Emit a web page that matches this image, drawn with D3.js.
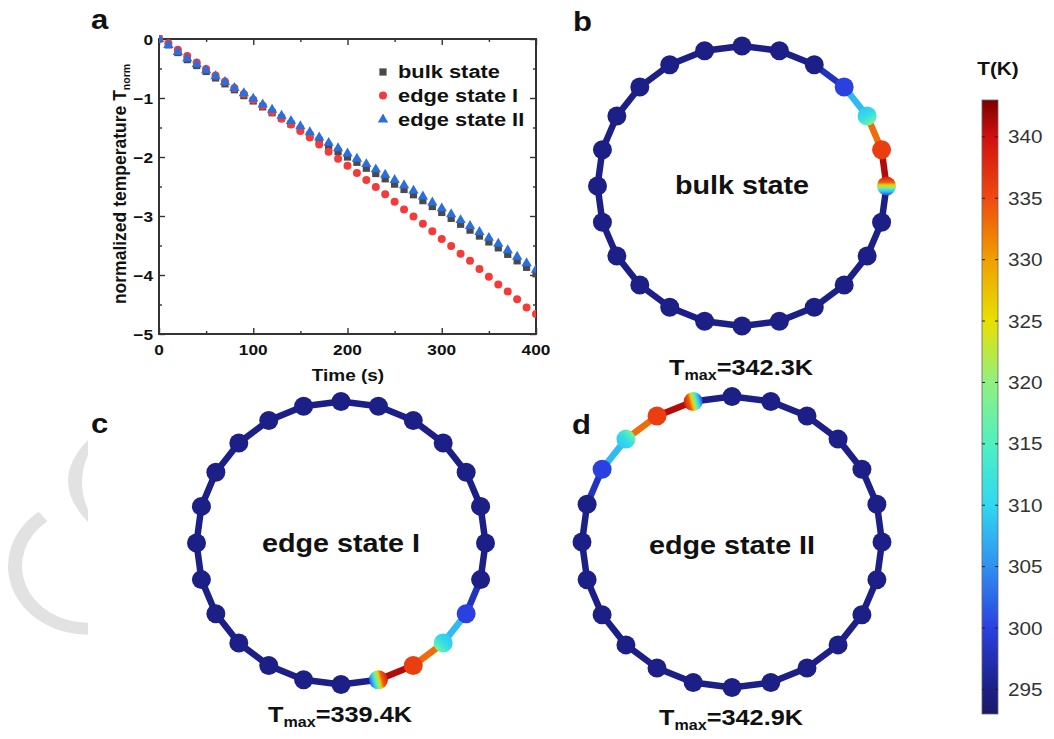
<!DOCTYPE html>
<html>
<head>
<meta charset="utf-8">
<script src="https://cdn.jsdelivr.net/npm/d3@7"></script>
<style>
  body { margin: 0; background: #fff; }
  svg { display: block; }
  text { font-family: "Liberation Sans", Arial, sans-serif; fill: #111; }
</style>
</head>
<body>
<svg id="fig" width="1054" height="739"></svg>
<script>
// ---- data ----
var timeS = [0,10,20,30,40,50,60,70,80,90,100,110,120,130,140,150,160,170,180,190,200,
             210,220,230,240,250,260,270,280,290,300,310,320,330,340,350,360,370,380,390,400];
var bulkT = [0,-0.10,-0.23,-0.35,-0.45,-0.55,-0.66,-0.76,-0.86,-0.96,-1.05,-1.15,-1.25,-1.34,-1.44,-1.53,-1.63,-1.72,-1.82,-1.91,-2.00,
             -2.09,-2.19,-2.28,-2.37,-2.46,-2.55,-2.64,-2.74,-2.84,-2.94,-3.04,-3.14,-3.24,-3.34,-3.44,-3.54,-3.65,-3.76,-3.87,-3.98];
var edge1T = [0,-0.07,-0.18,-0.29,-0.40,-0.51,-0.62,-0.72,-0.83,-0.93,-1.03,-1.13,-1.24,-1.35,-1.45,-1.56,-1.67,-1.79,-1.91,-2.03,-2.15,
              -2.27,-2.39,-2.51,-2.63,-2.76,-2.89,-3.01,-3.13,-3.26,-3.39,-3.51,-3.64,-3.76,-3.90,-4.03,-4.16,-4.28,-4.41,-4.55,-4.66];
var edge2T = [0,-0.10,-0.22,-0.33,-0.43,-0.53,-0.63,-0.73,-0.83,-0.92,-1.01,-1.11,-1.20,-1.30,-1.39,-1.48,-1.58,-1.67,-1.76,-1.85,-1.94,
              -2.03,-2.12,-2.21,-2.30,-2.39,-2.48,-2.57,-2.67,-2.77,-2.87,-2.97,-3.07,-3.17,-3.27,-3.37,-3.47,-3.58,-3.69,-3.80,-3.91];
var seriesNames = ["bulk state", "edge state I", "edge state II"];

var xMajor = [0,100,200,300,400];
var xMinor = [50,150,250,350];
var yMajor = [0,-1,-2,-3,-4,-5];
var yMinor = [-0.5,-1.5,-2.5,-3.5,-4.5];

var cbarTicks = [295,300,305,310,315,320,325,330,335,340];
var cmapT = [293,295,300,305,310,315,320,325,330,335,340,343];
var cmapColors = ["#1a1a66","#1c1f85","#2a40e0","#3090f0","#30d8f0","#50f0c0",
                  "#90f080","#e8e000","#f0a000","#f04a10","#d01010","#7a0000"];

var ringPanel = ["b","c","d"];
var ringLabels = ["bulk state", "edge state I", "edge state II"];
var ringTmax = ["342.3", "339.4", "342.9"];
var ringHotStart = [3, 8, 20];        // first warm node, in 15 degree steps from the top
var nodeCount = 24;
var baseT = 295;
var hotNodeT = [300, 311, 336, 342];   // blue, cyan, red, mixed node
var hotSegT = [298, 308, 333, 341];    // segment leading into each warm node

var SX = 1.15;   // the figure's text is a little wide
var svg = d3.select("#fig");
var defs = svg.append("defs");

var color = d3.scaleLinear().domain(cmapT).range(cmapColors).clamp(true);

function txt(parent, x, y, anchor, size, weight) {
  return parent.append("text")
    .attr("transform", "translate(" + x + "," + y + ") scale(" + SX + ",1)")
    .attr("text-anchor", anchor)
    .attr("font-size", size)
    .attr("font-weight", weight);
}

// ---- watermark ----
var wm = svg.append("g").attr("fill", "#e2e2e2");
wm.append("path")
  .attr("transform", "translate(88,566) scale(1,0.86)")
  .attr("d", d3.arc()({innerRadius: 66, outerRadius: 80, startAngle: Math.PI, endAngle: 322 * Math.PI / 180}));
wm.append("path").attr("d", "M88,440 Q48,481 88,522 L88,510 Q76,482 88,455 Z");

// ---- panel a ----
var x = d3.scaleLinear().domain([0, 400]).range([159, 536]);
var y = d3.scaleLinear().domain([-5, 0]).range([334, 39]);
var gA = svg.append("g");

defs.append("clipPath").attr("id", "plotclip")
  .append("rect").attr("x", 159).attr("y", 35).attr("width", 377).attr("height", 299);

function tickAxis(axis, values, len, tr) {
  gA.append("g").attr("transform", tr)
    .call(axis.tickValues(values).tickSize(len).tickSizeOuter(0).tickFormat(""))
    .call(function(g) { g.select(".domain").remove(); })
    .call(function(g) { g.selectAll("line").attr("stroke", "#333").attr("stroke-width", 1.4); });
}
tickAxis(d3.axisBottom(x), xMajor, -6, "translate(0,334)");
tickAxis(d3.axisBottom(x), xMinor, -3, "translate(0,334)");
tickAxis(d3.axisTop(x), xMajor, -6, "translate(0,39)");
tickAxis(d3.axisTop(x), xMinor, -3, "translate(0,39)");
tickAxis(d3.axisLeft(y), yMajor, -6, "translate(159,0)");
tickAxis(d3.axisLeft(y), yMinor, -3, "translate(159,0)");
tickAxis(d3.axisRight(y), yMajor, -6, "translate(536,0)");
tickAxis(d3.axisRight(y), yMinor, -3, "translate(536,0)");

gA.append("rect").attr("x", 159).attr("y", 39).attr("width", 377).attr("height", 295)
  .attr("fill", "none").attr("stroke", "#333").attr("stroke-width", 2);

xMajor.forEach(function(v) { txt(gA, x(v), 355, "middle", 15, "bold").text(v); });
yMajor.forEach(function(v) { txt(gA, 153, y(v) + 5.5, "end", 15, "bold").text(d3.format("d")(v)); });

txt(gA, 348, 381, "middle", 16.5, "bold").text("Time (s)");
var yl = gA.append("text").attr("transform", "translate(126,184) rotate(-90)")
  .attr("text-anchor", "middle").attr("font-size", 17.5).attr("font-weight", "bold");
yl.append("tspan").text("normalized temperature T");
yl.append("tspan").attr("font-size", 10.5).attr("dy", 4).text("norm");

var series = [
  {vals: bulkT, sym: d3.symbolSquare, size: 52, fill: "#4a4a4a"},
  {vals: edge1T, sym: d3.symbolCircle, size: 50, fill: "#f53a3a"},
  {vals: edge2T, sym: d3.symbolTriangle, size: 46, fill: "#2a6fdc"}
];
var pts = gA.append("g").attr("clip-path", "url(#plotclip)");
series.forEach(function(s) {
  pts.append("g").selectAll("path").data(timeS).join("path")
    .attr("transform", function(t, i) { return "translate(" + x(t) + "," + y(s.vals[i]) + ")"; })
    .attr("d", d3.symbol().type(s.sym).size(s.size)())
    .attr("fill", s.fill);
});

// legend
var legY = [72, 95.5, 119.5];
series.forEach(function(s, i) {
  gA.append("path").attr("transform", "translate(383," + legY[i] + ")")
    .attr("d", d3.symbol().type(s.sym).size(s.size)()).attr("fill", s.fill);
  txt(gA, 398, legY[i] + 6, "start", 19, "bold").text(seriesNames[i]);
});

// ---- ring panels ----
var ringGeo = [
  {cx: 742, cy: 186, rx: 144.5, ry: 140, lab: 194, tm: 375, tx: 741, px: 573, py: 31},
  {cx: 341, cy: 543, rx: 144.5, ry: 141.5, lab: 552, tm: 722, tx: 340, px: 91, py: 433},
  {cx: 732, cy: 542, rx: 150, ry: 145.5, lab: 554, tm: 725, tx: 731, px: 572, py: 434}
];
var ang = d3.scaleLinear().domain([0, nodeCount]).range([0, 2 * Math.PI]);

function nodeTemps(start) {
  var nt = d3.range(nodeCount).map(function() { return baseT; });
  var st = d3.range(nodeCount).map(function() { return baseT; });
  hotNodeT.forEach(function(t, k) { nt[(start + k) % nodeCount] = t; });
  hotSegT.forEach(function(t, k) { st[(start + k) % nodeCount] = t; });
  return {nt: nt, st: st};
}

ringGeo.forEach(function(g, r) {
  var gR = svg.append("g");
  var pos = function(i) {
    var a = ang(i);
    return [g.cx + g.rx * Math.sin(a), g.cy - g.ry * Math.cos(a)];
  };
  var tan = function(i) { var a = ang(i); return [Math.cos(a), Math.sin(a)]; };
  var temps = nodeTemps(ringHotStart[r]);

  // segment i joins node i-1 to node i
  gR.selectAll("line.seg").data(d3.range(nodeCount)).join("line")
    .attr("x1", function(i) { return pos(i - 1)[0]; })
    .attr("y1", function(i) { return pos(i - 1)[1]; })
    .attr("x2", function(i) { return pos(i)[0]; })
    .attr("y2", function(i) { return pos(i)[1]; })
    .attr("stroke", function(i) { return color(temps.st[i]); })
    .attr("stroke-width", 6.5).attr("stroke-linecap", "round");

  // gradients for the cyan node and the mixed node
  var cyanIdx = (ringHotStart[r] + 1) % nodeCount;
  var mixIdx = (ringHotStart[r] + 3) % nodeCount;
  function grad(id, i, stops) {
    var p = pos(i), t = tan(i), R = 9.5;
    var lg = defs.append("linearGradient").attr("id", id).attr("gradientUnits", "userSpaceOnUse")
      .attr("x1", p[0] - t[0] * R).attr("y1", p[1] - t[1] * R)
      .attr("x2", p[0] + t[0] * R).attr("y2", p[1] + t[1] * R);
    stops.forEach(function(s) {
      lg.append("stop").attr("offset", s[0]).attr("stop-color", color(s[1]));
    });
  }
  grad("cy" + r, cyanIdx, [[0, 309], [0.5, 311], [0.85, 316], [1, 320]]);
  grad("mx" + r, mixIdx, [[0, 339], [0.3, 334], [0.45, 326], [0.6, 318], [0.78, 309], [1, 300]]);

  gR.selectAll("circle").data(d3.range(nodeCount)).join("circle")
    .attr("cx", function(i) { return pos(i)[0]; })
    .attr("cy", function(i) { return pos(i)[1]; })
    .attr("r", 9.5)
    .attr("fill", function(i) {
      if (i === cyanIdx) return "url(#cy" + r + ")";
      if (i === mixIdx) return "url(#mx" + r + ")";
      return color(temps.nt[i]);
    });

  txt(gR, g.cx, g.lab, "middle", 25, "bold").text(ringLabels[r]);
  var tm = txt(gR, g.tx, g.tm, "middle", 22, "bold");
  tm.append("tspan").text("T");
  tm.append("tspan").attr("font-size", 14).attr("dy", 5).text("max");
  tm.append("tspan").attr("dy", -5).text("=" + ringTmax[r] + "K");

  txt(svg, g.px, g.py, "start", 27, "bold").text(ringPanel[r]);
});
txt(svg, 91, 29, "start", 27, "bold").text("a");

// ---- colour bar ----
var cy = d3.scaleLinear().domain([293, 343]).range([714, 100]);
var cg = defs.append("linearGradient").attr("id", "cbar")
  .attr("x1", 0).attr("y1", 1).attr("x2", 0).attr("y2", 0);
cmapT.forEach(function(t, i) {
  cg.append("stop").attr("offset", (t - 293) / 50).attr("stop-color", cmapColors[i]);
});
var gC = svg.append("g");
gC.append("rect").attr("x", 982).attr("y", cy(343)).attr("width", 16).attr("height", cy(293) - cy(343))
  .attr("fill", "url(#cbar)").attr("stroke", "#666").attr("stroke-width", 0.8);
cbarTicks.forEach(function(t) {
  gC.append("line").attr("x1", 982).attr("x2", 985).attr("y1", cy(t)).attr("y2", cy(t)).attr("stroke", "#222");
  gC.append("line").attr("x1", 995).attr("x2", 998).attr("y1", cy(t)).attr("y2", cy(t)).attr("stroke", "#222");
  txt(gC, 1008, cy(t) + 6.5, "start", 18, "normal")
    .attr("font-family", "'DejaVu Sans', sans-serif").style("fill", "#333").text(t);
});
txt(gC, 998, 75, "middle", 18, "bold").text("T(K)");
</script>
</body>
</html>
